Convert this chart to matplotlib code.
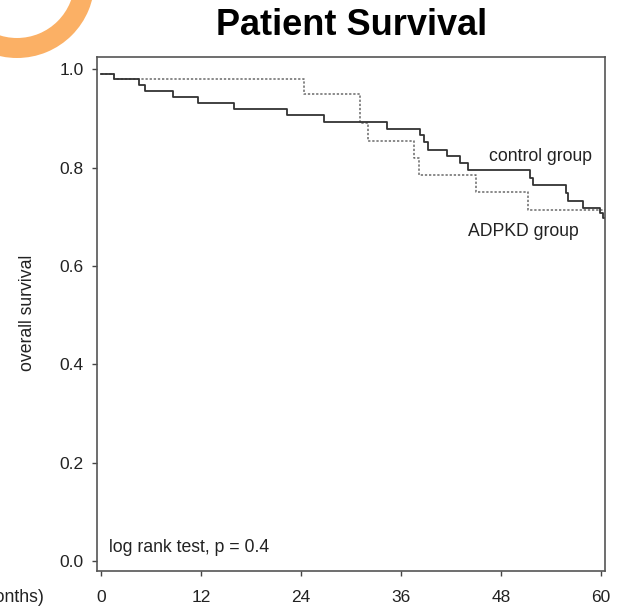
import numpy as np
import matplotlib
matplotlib.use("Agg")
import matplotlib.pyplot as plt
from matplotlib.patches import Wedge

plt.rcParams['font.family'] = ['Liberation Sans', 'DejaVu Sans']

# Kaplan-Meier steps (months, survival)
control_t = [0, 1.6, 4.6, 5.3, 8.7, 11.6, 16.0, 22.3, 26.8, 34.3, 38.3, 38.8, 39.2,
             41.5, 43.1, 44.1, 51.5, 51.8, 55.8, 56.0, 57.9, 59.9, 60.3, 60.6]
control_s = [0.990, 0.980, 0.968, 0.956, 0.943, 0.931, 0.919, 0.906, 0.892, 0.879, 0.866, 0.851, 0.836,
             0.824, 0.810, 0.795, 0.778, 0.764, 0.748, 0.733, 0.718, 0.707, 0.698, 0.698]

adpkd_t = [0, 1.6, 24.4, 31.1, 32.1, 37.6, 38.2, 45.0, 51.2, 60.6]
adpkd_s = [0.990, 0.980, 0.949, 0.890, 0.853, 0.819, 0.785, 0.751, 0.714, 0.714]

x_ticks = [0, 12, 24, 36, 48, 60]
y_ticks = [0.0, 0.2, 0.4, 0.6, 0.8, 1.0]

W, H = 621, 607
fig = plt.figure(figsize=(W / 100, H / 100), dpi=100)

# orange ring in the top-left corner (pixel coords)
bg = fig.add_axes([0, 0, 1, 1])
bg.set_xlim(0, W)
bg.set_ylim(H, 0)
bg.axis('off')
bg.add_patch(Wedge((17, -19.5), 77.5, 0, 360, width=20, color='#FBB065', lw=0))

ax = fig.add_axes([97.3 / W, 1 - 570.7 / H, (605 - 97.3) / W, (570.7 - 57.3) / H])
ax.step(adpkd_t, adpkd_s, where='post', color='#6a6a6a', lw=1.1, linestyle=(0, (1.5, 1.2)))
ax.step(control_t, control_s, where='post', color='#333333', lw=1.3)

ax.set_xlim(-0.44, 60.5)
ax.set_ylim(-0.019, 1.024)
ax.set_xticks(x_ticks)
ax.set_yticks(y_ticks)
ax.set_yticklabels([f'{v:.1f}' for v in y_ticks])
ax.tick_params(length=3.6, width=1.0, color='#444444', labelsize=12.5, labelcolor='#222222')
ax.tick_params(axis='x', pad=10)
ax.tick_params(axis='y', pad=6)
for sp in ax.spines.values():
    sp.set_color('#555555')
    sp.set_linewidth(1.2)

ax.text(1.0, 0.019, 'log rank test, p = 0.4', fontsize=12.7, color='#222222', va='baseline')
ax.text(46.6, 0.814, 'control group', fontsize=12.7, color='#222222', va='baseline')
ax.text(44.0, 0.660, 'ADPKD group', fontsize=12.7, color='#222222', va='baseline')

fig.text(27.5 / W, 1 - 313 / H, 'overall survival', rotation=90, fontsize=12.7,
         color='#222222', ha='center', va='center')
# axis title runs off the left edge, as in the source image
fig.text(44 / W, 1 - 601.7 / H, 'time (months)', fontsize=12.7, color='#222222',
         ha='right', va='baseline')
fig.text(352 / W, 1 - 35 / H, 'Patient Survival', fontsize=26, fontweight='bold',
         color='black', ha='center', va='baseline')

fig.savefig('out.png', dpi=100)
